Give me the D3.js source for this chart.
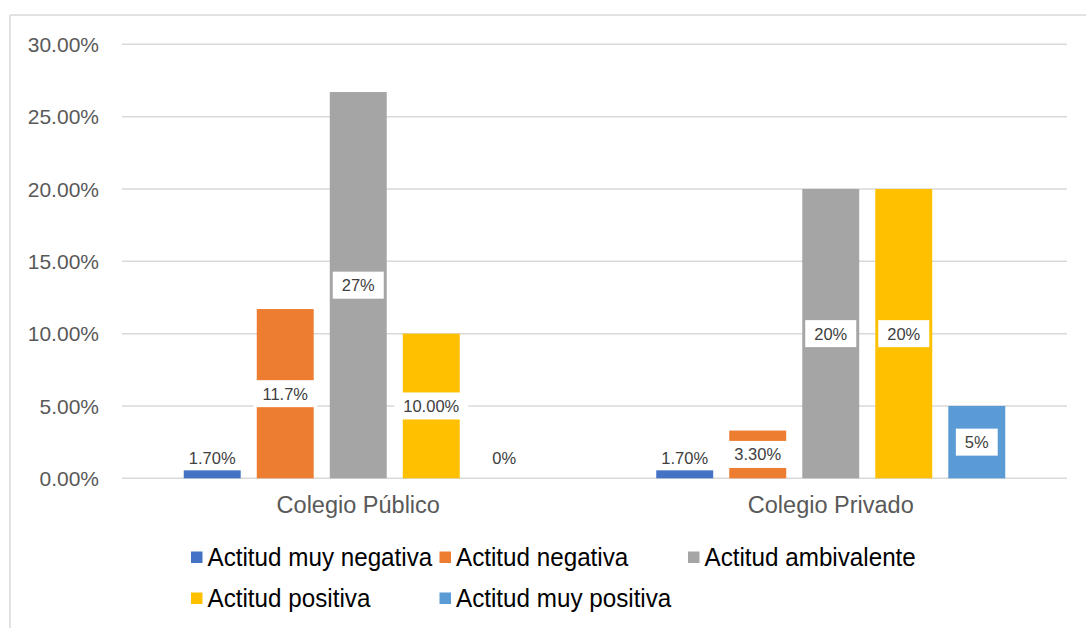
<!DOCTYPE html>
<html>
<head>
<meta charset="utf-8">
<script src="https://cdn.jsdelivr.net/npm/d3@7"></script>
<style>
  html, body { margin: 0; padding: 0; background: #fff; }
  svg { display: block; }
</style>
</head>
<body>
<svg id="chart" width="1086" height="628"></svg>
<script>
// ---- data ----
const categories = ["Colegio Público", "Colegio Privado"];
const seriesNames = ["Actitud muy negativa", "Actitud negativa", "Actitud ambivalente", "Actitud positiva", "Actitud muy positiva"];
const seriesColors = ["#4472C4", "#ED7D31", "#A5A5A5", "#FFC000", "#5B9BD5"];
// bar heights as drawn (fraction)
const publicoValues = [0.0055, 0.117, 0.267, 0.100, 0.0];
const privadoValues = [0.0055, 0.033, 0.200, 0.200, 0.050];
// data label texts as printed on the chart
const publicoLabels = ["1.70%", "11.7%", "27%", "10.00%", "0%"];
const privadoLabels = ["1.70%", "3.30%", "20%", "20%", "5%"];
const yTicks = [0, 0.05, 0.10, 0.15, 0.20, 0.25, 0.30];

const valuesByCat = [publicoValues, privadoValues];
const labelsByCat = [publicoLabels, privadoLabels];

// ---- layout ----
const svg = d3.select("#chart");
const plotLeft = 122, plotRight = 1067, plotTop = 44.3, plotBottom = 478.3;

// chart border (top + left visible)
svg.append("line").attr("x1", 10).attr("x2", 1086).attr("y1", 15).attr("y2", 15)
  .attr("stroke", "#D9D9D9").attr("stroke-width", 1.5);
svg.append("line").attr("x1", 10).attr("x2", 10).attr("y1", 15).attr("y2", 628)
  .attr("stroke", "#D9D9D9").attr("stroke-width", 1.5);

const y = d3.scaleLinear().domain([0, 0.30]).range([plotBottom, plotTop]);
const x0 = d3.scaleBand().domain(categories).range([plotLeft, plotRight]).padding(0);
const groupWidth = 349;
const x1 = d3.scaleBand().domain(seriesNames)
  .range([(x0.bandwidth() - groupWidth) / 2, (x0.bandwidth() + groupWidth) / 2])
  .paddingInner(0.22);

// gridlines
svg.append("g").selectAll("line").data(yTicks).join("line")
  .attr("x1", plotLeft).attr("x2", plotRight)
  .attr("y1", d => y(d)).attr("y2", d => y(d))
  .attr("stroke", "#D9D9D9").attr("stroke-width", 1.5);

// y axis labels
const yAxis = d3.axisLeft(y).tickValues(yTicks).tickFormat(d3.format(".2%")).tickSize(0).tickPadding(0);
const yG = svg.append("g").attr("transform", `translate(99,0)`).call(yAxis);
yG.select(".domain").remove();
yG.selectAll("text").attr("font-family", "'Liberation Sans', Arial, sans-serif")
  .attr("font-size", 21).attr("fill", "#595959").attr("dy", "0.35em");

// x axis category labels
const xAxis = d3.axisBottom(x0).tickSize(0).tickPadding(0);
const xG = svg.append("g").attr("transform", `translate(0,${plotBottom + 35})`).call(xAxis);
xG.select(".domain").remove();
xG.selectAll("text").attr("font-family", "'Liberation Sans', Arial, sans-serif")
  .attr("font-size", 23.5).attr("fill", "#595959").attr("dy", 0);

// bars
const groups = svg.append("g").selectAll("g").data(categories).join("g")
  .attr("transform", d => `translate(${x0(d)},0)`);

groups.each(function (cat, ci) {
  const g = d3.select(this);
  const vals = valuesByCat[ci];
  const labs = labelsByCat[ci];
  seriesNames.forEach((s, si) => {
    const v = vals[si];
    if (v > 0) {
      g.append("rect")
        .attr("x", x1(s)).attr("width", x1.bandwidth())
        .attr("y", y(v)).attr("height", y(0) - y(v))
        .attr("fill", seriesColors[si]);
    }
  });
  // labels
  seriesNames.forEach((s, si) => {
    const v = vals[si];
    const cx = x1(s) + x1.bandwidth() / 2;
    const small = (y(0) - y(v)) < 30;
    const cy = small ? y(0) - 20 : (y(v) + y(0)) / 2;
    const lg = g.append("g");
    const t = lg.append("text")
      .attr("x", cx).attr("y", cy).attr("dy", "0.36em")
      .attr("text-anchor", "middle")
      .attr("font-family", "'Liberation Sans', Arial, sans-serif")
      .attr("font-size", 16.5).attr("fill", "#404040")
      .text(labs[si]);
    const w = t.node().getComputedTextLength();
    if (!small) {
      lg.insert("rect", "text")
        .attr("x", cx - w / 2 - 9).attr("width", w + 18)
        .attr("y", cy - 13.5).attr("height", 27)
        .attr("fill", "#fff");
    }
  });
});

// legend
const legendCols = 3, colStep = 248.5, legendX = 191, rowY = [566, 607];
const leg = svg.append("g").selectAll("g").data(seriesNames).join("g")
  .attr("transform", (d, i) => `translate(${legendX + (i % legendCols) * colStep},${rowY[Math.floor(i / legendCols)]})`);
leg.append("rect").attr("x", 0).attr("y", -14.5).attr("width", 11.5).attr("height", 11.5)
  .attr("fill", (d, i) => seriesColors[i]);
leg.append("text").attr("transform", "translate(16.5,0) scale(0.95,1)")
  .attr("font-family", "'Liberation Sans', Arial, sans-serif")
  .attr("font-size", 25.5).attr("fill", "#000")
  .text(d => d);
</script>
</body>
</html>
